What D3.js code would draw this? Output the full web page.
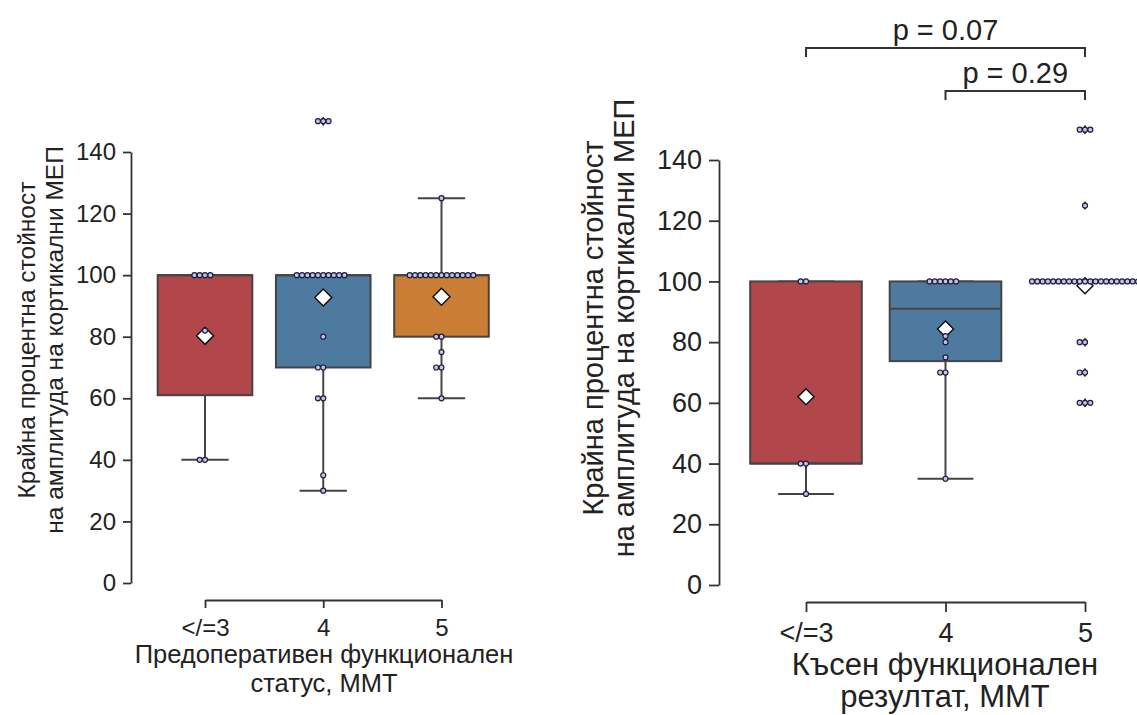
<!DOCTYPE html>
<html>
<head>
<meta charset="utf-8">
<script src="https://cdn.jsdelivr.net/npm/d3@7"></script>
<style>
  html, body { margin: 0; padding: 0; background: #fff; }
  svg { display: block; font-family: "Liberation Sans", Arial, sans-serif; }
</style>
</head>
<body>
<svg id="chart" width="1137" height="715"></svg>
<script>
// Категории по ММТ
const categories = ["</=3", "4", "5"];
const yTicks = [0, 20, 40, 60, 80, 100, 120, 140];

// Предоперативен функционален статус – крайна процентна стойност на МЕП
const preLe3 = [100, 100, 100, 100, 82, 40, 40];
const pre4 = [150, 150, 150, 100, 100, 100, 100, 100, 100, 100, 100, 100, 100, 80, 70, 70, 60, 60, 35, 30];
const pre5 = [125, 100, 100, 100, 100, 100, 100, 100, 100, 100, 100, 100, 100, 100, 80, 80, 75, 70, 70, 60];

// Късен функционален резултат
const lateLe3 = [100, 100, 40, 40, 30];
const late4 = [100, 100, 100, 100, 100, 100, 82, 80, 75, 70, 70, 35];
const late5 = [150, 150, 150, 125, 100, 100, 100, 100, 100, 100, 100, 100, 100, 100, 100, 100, 100, 100, 100, 100, 100, 100, 100, 100, 100, 80, 80, 70, 70, 60, 60, 60];

// p-стойности между групите в късния резултат
const pLabels = ["p = 0.07", "p = 0.29"];
const pPairs = [["</=3", "5"], ["4", "5"]];

const boxColors = ["#b2474b", "#4f7aa0", "#c97d35"];
const edgeColor = "#444444";
const textColor = "#222222";

const svg = d3.select("#chart");

function boxStats(vals) {
  const s = vals.slice().sort(d3.ascending);
  const q1 = d3.quantile(s, 0.25);
  const med = d3.quantile(s, 0.5);
  const q3 = d3.quantile(s, 0.75);
  const iqr = q3 - q1;
  const loFence = q1 - 1.5 * iqr, hiFence = q3 + 1.5 * iqr;
  const inside = s.filter(v => v >= loFence && v <= hiFence);
  return {
    q1, med, q3,
    lo: d3.min(inside), hi: d3.max(inside),
    mean: d3.mean(s),
    fliers: s.filter(v => v < loFence || v > hiFence)
  };
}

// simple beeswarm: each point goes to the nearest free slot around the centre
function swarm(vals, cx, y, d) {
  const s = vals.slice().sort(d3.ascending);
  const placed = [];
  s.forEach(v => {
    const py = y(v);
    for (let k = 0; k < 200; k++) {
      const m = Math.ceil(k / 2) * (k % 2 === 1 ? -1 : 1);
      const px = cx + m * d;
      const clash = placed.some(p => Math.hypot(p.x - px, p.y - py) < d * 0.98);
      if (!clash) { placed.push({x: px, y: py, v}); break; }
    }
  });
  return placed;
}

function drawPanel(cfg, groups) {
  const g = svg.append("g");
  const x = d3.scalePoint().domain(categories).range(cfg.xRange);
  const y = d3.scaleLinear().domain([0, 140]).range(cfg.yRange);
  const bw = x.step() * 0.8;

  // axes
  const ya = g.append("g").attr("transform", `translate(${cfg.yAxisX},0)`)
    .call(d3.axisLeft(y).tickValues(yTicks).tickSize(cfg.tickLen).tickSizeOuter(0).tickPadding(cfg.yPad));
  const xa = g.append("g").attr("transform", `translate(0,${cfg.xAxisY})`)
    .call(d3.axisBottom(x).tickSize(cfg.tickLen).tickSizeOuter(0).tickPadding(cfg.xPad));
  [ya, xa].forEach(a => {
    a.selectAll("path, line").attr("stroke", "#333").attr("stroke-width", 1.8);
    a.selectAll("text").attr("fill", textColor).attr("font-size", cfg.tickFont)
      .attr("font-family", "Liberation Sans, Arial, sans-serif");
  });

  groups.forEach((vals, i) => {
    const st = boxStats(vals);
    const cx = x(categories[i]);
    // whiskers
    g.append("line").attr("x1", cx).attr("x2", cx).attr("y1", y(st.q1)).attr("y2", y(st.lo))
      .attr("stroke", edgeColor).attr("stroke-width", 2);
    g.append("line").attr("x1", cx).attr("x2", cx).attr("y1", y(st.q3)).attr("y2", y(st.hi))
      .attr("stroke", edgeColor).attr("stroke-width", 2);
    [st.lo, st.hi].forEach(v => g.append("line")
      .attr("x1", cx - bw / 4).attr("x2", cx + bw / 4).attr("y1", y(v)).attr("y2", y(v))
      .attr("stroke", edgeColor).attr("stroke-width", 2));
    // box
    g.append("rect").attr("x", cx - bw / 2).attr("width", bw)
      .attr("y", y(st.q3)).attr("height", y(st.q1) - y(st.q3))
      .attr("fill", boxColors[i]).attr("stroke", edgeColor).attr("stroke-width", 2);
    g.append("line").attr("x1", cx - bw / 2).attr("x2", cx + bw / 2)
      .attr("y1", y(st.med)).attr("y2", y(st.med))
      .attr("stroke", edgeColor).attr("stroke-width", 2);
    // outliers
    st.fliers.forEach(v => g.append("path")
      .attr("d", `M${cx},${y(v) - 4.5}L${cx + 3},${y(v)}L${cx},${y(v) + 4.5}L${cx - 3},${y(v)}Z`)
      .attr("fill", "#333"));
    // mean
    const my = y(st.mean), r = cfg.meanR;
    g.append("path")
      .attr("d", `M${cx},${my - r}L${cx + r},${my}L${cx},${my + r}L${cx - r},${my}Z`)
      .attr("fill", "#fff").attr("stroke", "#111").attr("stroke-width", 1.5);
  });

  // individual observations
  groups.forEach((vals, i) => {
    const pts = swarm(vals, x(categories[i]), y, 5.3);
    g.selectAll(null).data(pts).enter().append("circle")
      .attr("cx", d => d.x).attr("cy", d => d.y).attr("r", 2.5)
      .attr("fill", "#c3c3e6").attr("stroke", "#1c1c3e").attr("stroke-width", 1.2);
  });

  // axis titles
  const yt = g.append("text").attr("fill", textColor).attr("font-size", cfg.titleFont)
    .attr("text-anchor", "middle")
    .attr("transform", `translate(${cfg.yTitleX},${cfg.yTitleY}) rotate(-90)`);
  cfg.yTitle.forEach((t, k) => yt.append("tspan").attr("x", 0).attr("y", k * cfg.yTitleGap).text(t));
  const xt = g.append("text").attr("fill", textColor).attr("font-size", cfg.xTitleFont)
    .attr("text-anchor", "middle");
  cfg.xTitle.forEach((t, k) => xt.append("tspan").attr("x", cfg.xTitleX).attr("y", cfg.xTitleY + k * cfg.xTitleGap).text(t));

  return {x, y, g};
}

drawPanel({
  xRange: [205, 441.5], yRange: [583, 152], yAxisX: 131, xAxisY: 600,
  tickLen: 8, yPad: 7, xPad: 11, tickFont: 24, meanR: 8.5,
  yTitle: ["Крайна процентна стойност", "на амплитуда на кортикални МЕП"],
  yTitleX: 35, yTitleY: 340, yTitleGap: 28, titleFont: 24.5,
  xTitle: ["Предоперативен функционален", "статус, ММТ"],
  xTitleX: 324, xTitleY: 663, xTitleGap: 29, xTitleFont: 25.5
}, [preLe3, pre4, pre5]);

const right = drawPanel({
  xRange: [806, 1085], yRange: [585, 160], yAxisX: 719, xAxisY: 602,
  tickLen: 10, yPad: 7, xPad: 11, tickFont: 27, meanR: 8,
  yTitle: ["Крайна процентна стойност", "на амплитуда на кортикални МЕП"],
  yTitleX: 603, yTitleY: 328, yTitleGap: 31, titleFont: 29,
  xTitle: ["Късен функционален", "резултат, ММТ"],
  xTitleX: 945, xTitleY: 675, xTitleGap: 32, xTitleFont: 31
}, [lateLe3, late4, late5]);

// significance brackets
const bracketY = [48, 91];
pPairs.forEach((pair, k) => {
  const x1 = right.x(pair[0]), x2 = right.x(pair[1]), by = bracketY[k];
  right.g.append("path")
    .attr("d", `M${x1},${by + 9}V${by}H${x2}V${by + 9}`)
    .attr("fill", "none").attr("stroke", "#333").attr("stroke-width", 2);
  right.g.append("text").attr("x", (x1 + x2) / 2).attr("y", by - 8)
    .attr("text-anchor", "middle").attr("font-size", 29).attr("fill", textColor)
    .text(pLabels[k]);
});
</script>
</body>
</html>
